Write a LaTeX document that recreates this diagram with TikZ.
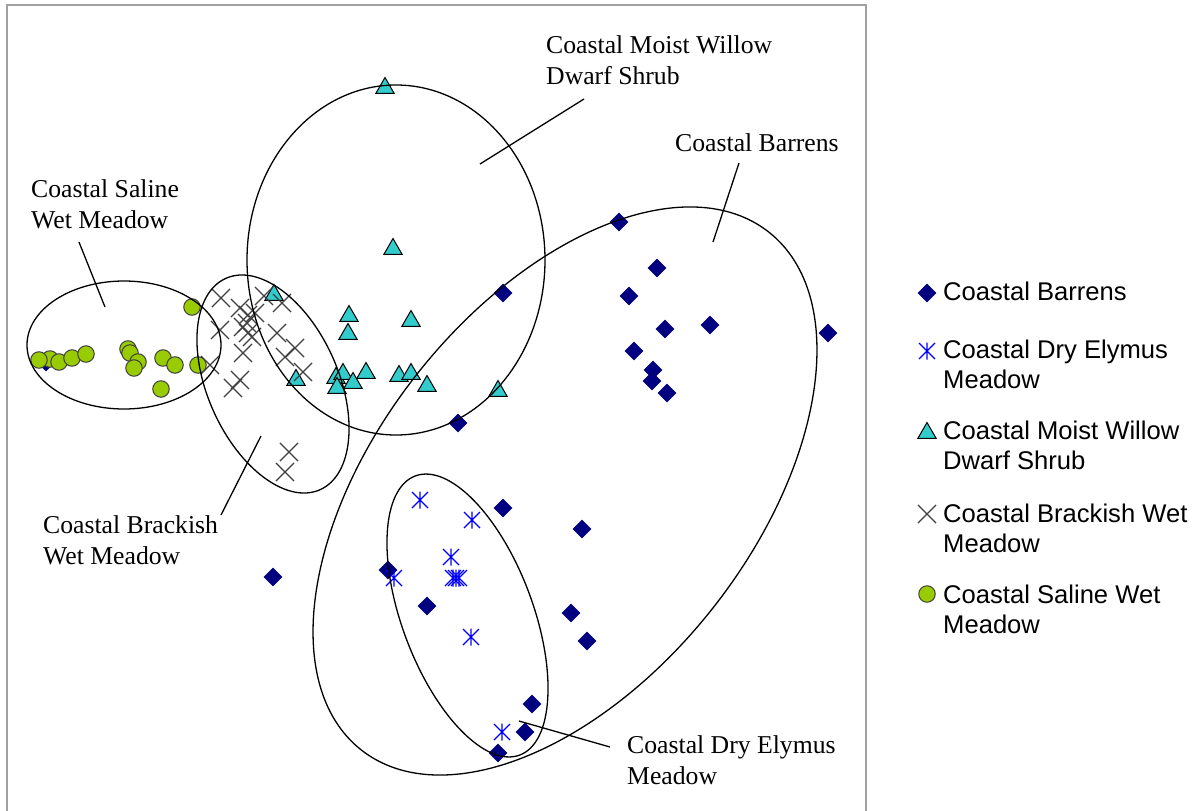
\documentclass[tikz,border=0pt]{standalone}
\usepackage{fontspec}
\setmainfont{Liberation Serif}
\newfontfamily\legendfont{Liberation Sans}
\usetikzlibrary{shapes.geometric,shapes.misc}
\definecolor{navy}{HTML}{000080}
\definecolor{turq}{HTML}{33CCCC}
\definecolor{limefill}{HTML}{99CC00}
\definecolor{xgray}{HTML}{404040}
\definecolor{framegray}{HTML}{A0A0A0}
\newcommand\lbltwo[2]{\vtop{\hbox{#1}\hbox{#2}}}
\begin{document}
\begin{tikzpicture}[x=1pt,y=-1pt,
  barren/.style={diamond, fill=navy, inner sep=0pt, minimum size=19pt},
  willow/.style={regular polygon, regular polygon sides=3, fill=turq, draw=black, line width=1pt, inner sep=0pt, minimum size=21pt},
  brack/.style={cross out, draw=xgray, line width=1.1pt, inner sep=0pt, minimum size=17pt},
  saline/.style={circle, fill=limefill, draw=xgray, line width=1pt, inner sep=0pt, minimum size=16.5pt},
  starmark/.pic={\draw[blue, line width=1.2pt] (0,-8.5)--(0,8.5) (-8,-8)--(8,8) (-8,8)--(8,-8);},
  hull/.style={draw=black, line width=1.3pt},
  leader/.style={draw=black, line width=1.3pt},
  plotlabel/.style={anchor=base west, inner sep=0pt, font=\fontsize{25.7}{31}\selectfont},
  legendlabel/.style={anchor=base west, inner sep=0pt, font=\legendfont\fontsize{25.6}{30.5}\selectfont}
]
\useasboundingbox (0,0) rectangle (1197,811);
\fill[white] (0,0) rectangle (1197,811);
\draw[framegray, line width=2pt] (7,816) -- (7,5) -- (866,5) -- (866,816);

% Coastal Barrens (diamonds)
\foreach \x/\y [count=\i] in {619/222,657/268,629/296,665/329,710/325,828/333,634/351,653/370,652/381,667/393,503/293,458/423,503/508,582/529,273/577,388/570,427/606,571/613,587/641,532/704,525/732,498/753,46/362}
  \node[barren] (b\i) at (\x,\y) {};

% Coastal Dry Elymus Meadow (asterisks)
\foreach \x/\y [count=\i] in {420/500,472/520,451/557,453/578,456/578,459/578,394/578,471/637,502/732}
  \pic (e\i) at (\x,\y) {starmark};

% Coastal Moist Willow Dwarf Shrub (triangles)
\foreach \x/\y [count=\i] in {385/88,393/249,274/295,349/316,348/334,411/321,296/380,336/378,343/374,337/388,353/383,366/373,399/376,411/374,427/386,498/391}
  \node[willow] (w\i) at (\x,\y) {};

% Coastal Brackish Wet Meadow (crosses)
\foreach \x/\y [count=\i] in {221/298,264/296,282/303,240/308,248/315,255/313,247/323,243/327,252/337,248/333,220/330,277/333,295/348,285/357,243/353,303/372,210/365,240/380,233/388,289/452,285/472}
  \node[brack] (k\i) at (\x,\y) {};

% Coastal Saline Wet Meadow (circles)
\foreach \x/\y [count=\i] in {50/359,39/360,59/362,72/358,86/354,128/349,130/353,138/362,134/368,163/358,175/365,198/365,161/389,192/307}
  \node[saline] (s\i) at (\x,\y) {};

% group outlines
\draw[hull] (124,345) ellipse [x radius=97, y radius=64];
\draw[hull, rotate around={-66:(273,384)}] (273,384) ellipse [x radius=115.7, y radius=65.4];
\draw[hull] (396,260) ellipse [x radius=149, y radius=175];
\draw[hull, rotate around={51.8:(565,491)}] (565,491) ellipse [x radius=329.5, y radius=188.6];
\draw[hull, rotate around={-69.5:(467.5,615.5)}] (467.5,615.5) ellipse [x radius=149, y radius=65.5];

% labels
\node[plotlabel] (lsaline) at (31,197) {\lbltwo{Coastal Saline}{Wet Meadow}};
\node[plotlabel] (lwillow) at (546,53) {\lbltwo{Coastal Moist Willow}{Dwarf Shrub}};
\node[plotlabel] (lbarren) at (675,151) {Coastal Barrens};
\node[plotlabel] (lbrack) at (43,533) {\lbltwo{Coastal Brackish}{Wet Meadow}};
\node[plotlabel] (lelymus) at (627,753) {\lbltwo{Coastal Dry Elymus}{Meadow}};

% leader lines
\coordinate (salA) at (79,242);  \coordinate (salB) at (105,307);
\coordinate (wilA) at (584,99);  \coordinate (wilB) at (480,164);
\coordinate (barA) at (739,163); \coordinate (barB) at (713,242);
\coordinate (braA) at (261,436); \coordinate (braB) at (221,515);
\coordinate (elyA) at (610,747); \coordinate (elyB) at (519,721);
\draw[leader] (salA) -- (salB);
\draw[leader] (wilA) -- (wilB);
\draw[leader] (barA) -- (barB);
\draw[leader] (braA) -- (braB);
\draw[leader] (elyA) -- (elyB);

% legend
\node[barren] (legb) at (927,293) {};
\pic (lege) at (927,351) {starmark};
\node[willow] (legw) at (927,433) {};
\node[brack] (legk) at (927,514) {};
\node[saline] (legs) at (927,594) {};
\node[legendlabel] (tb) at (943,300) {Coastal Barrens};
\node[legendlabel] (te) at (943,358) {\lbltwo{Coastal Dry Elymus}{Meadow}};
\node[legendlabel] (tw) at (943,439) {\lbltwo{Coastal Moist Willow}{Dwarf Shrub}};
\node[legendlabel] (tk) at (943,522) {\lbltwo{Coastal Brackish Wet}{Meadow}};
\node[legendlabel] (ts) at (943,603) {\lbltwo{Coastal Saline Wet}{Meadow}};
\end{tikzpicture}
\end{document}
